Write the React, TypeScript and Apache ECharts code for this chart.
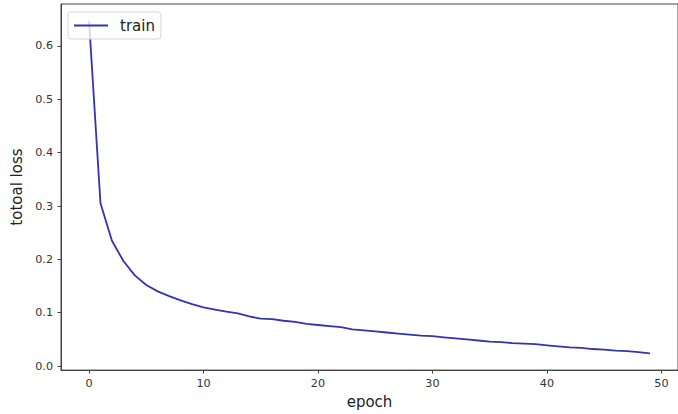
import React, { useEffect, useRef } from "react";
import * as echarts from "echarts";

const epochs: number[] = Array.from({ length: 50 }, (_, i) => i);
const trainLoss: number[] = [
  0.647, 0.305, 0.235, 0.197, 0.170, 0.152, 0.140, 0.131, 0.123, 0.116,
  0.110, 0.106, 0.102, 0.099, 0.093, 0.089, 0.088, 0.085, 0.083, 0.079,
  0.077, 0.075, 0.073, 0.069, 0.067, 0.065, 0.063, 0.061, 0.059, 0.057,
  0.056, 0.054, 0.052, 0.050, 0.048, 0.046, 0.045, 0.043, 0.042, 0.041,
  0.039, 0.037, 0.035, 0.034, 0.032, 0.031, 0.029, 0.028, 0.026, 0.024,
];
const xTicks: number[] = [0, 10, 20, 30, 40, 50];
const yTicks: number[] = [0, 0.1, 0.2, 0.3, 0.4, 0.5, 0.6];

const FONT = "DejaVu Sans";
const AXIS_COLOR = "#444";
const TEXT_COLOR = "#333";
const LINE_COLOR = "#3333b3";

export default function App() {
  const ref = useRef<HTMLDivElement>(null);
  useEffect(() => {
    document.body.style.margin = "0";
    document.body.style.overflow = "hidden";
    const chart = echarts.init(ref.current!, null, { renderer: "svg" });
    chart.setOption({
      animation: false,
      backgroundColor: "#fff",
      grid: {
        left: 61,
        top: 4,
        right: -11,
        bottom: 42,
        show: true,
        borderColor: AXIS_COLOR,
        borderWidth: 1,
        containLabel: false,
      },
      legend: {
        left: 68,
        top: 12,
        padding: [6, 6, 6, 6],
        itemWidth: 34,
        itemHeight: 14,
        borderColor: "#d6d6d6",
        borderWidth: 1,
        borderRadius: 3,
        backgroundColor: "rgba(255,255,255,0.8)",
        itemStyle: { color: LINE_COLOR, borderWidth: 0 },
        lineStyle: { width: 0 },
        textStyle: {
          fontFamily: FONT,
          fontSize: 15,
          color: "#222",
          padding: [0, 1, 0, 7],
        },
        data: [{ name: "train", icon: "path://M0,0H34V1.8H0Z" }],
      },
      xAxis: {
        type: "value",
        min: -2.45,
        max: 51.45,
        name: "epoch",
        nameLocation: "middle",
        nameGap: 23,
        nameTextStyle: { fontFamily: FONT, fontSize: 15, color: "#222" },
        splitLine: { show: false },
        axisLine: { show: true, onZero: false, lineStyle: { color: AXIS_COLOR, width: 1 } },
        axisTick: {
          show: true,
          length: 3.5,
          customValues: xTicks,
          lineStyle: { color: AXIS_COLOR },
        },
        axisLabel: {
          customValues: xTicks,
          fontFamily: FONT,
          fontSize: 11.2,
          color: TEXT_COLOR,
          margin: 8,
        },
      },
      yAxis: {
        type: "value",
        min: -0.0075,
        max: 0.6786,
        name: "totoal loss",
        nameLocation: "middle",
        nameGap: 31,
        nameTextStyle: { fontFamily: FONT, fontSize: 15, color: "#222" },
        splitLine: { show: false },
        axisLine: { show: true, onZero: false, lineStyle: { color: AXIS_COLOR, width: 1 } },
        axisTick: {
          show: true,
          length: 3.5,
          customValues: yTicks,
          lineStyle: { color: AXIS_COLOR },
        },
        axisLabel: {
          customValues: yTicks,
          fontFamily: FONT,
          fontSize: 11.2,
          color: TEXT_COLOR,
          margin: 8,
          formatter: (v: number) => v.toFixed(1),
        },
      },
      series: [
        {
          name: "train",
          type: "line",
          data: epochs.map((e, i) => [e, trainLoss[i]]),
          symbol: "none",
          showSymbol: false,
          lineStyle: { color: LINE_COLOR, width: 1.8 },
          itemStyle: { color: LINE_COLOR },
        },
      ],
    });
    return () => chart.dispose();
  }, []);
  return <div ref={ref} style={{ width: 678, height: 414 }} />;
}
